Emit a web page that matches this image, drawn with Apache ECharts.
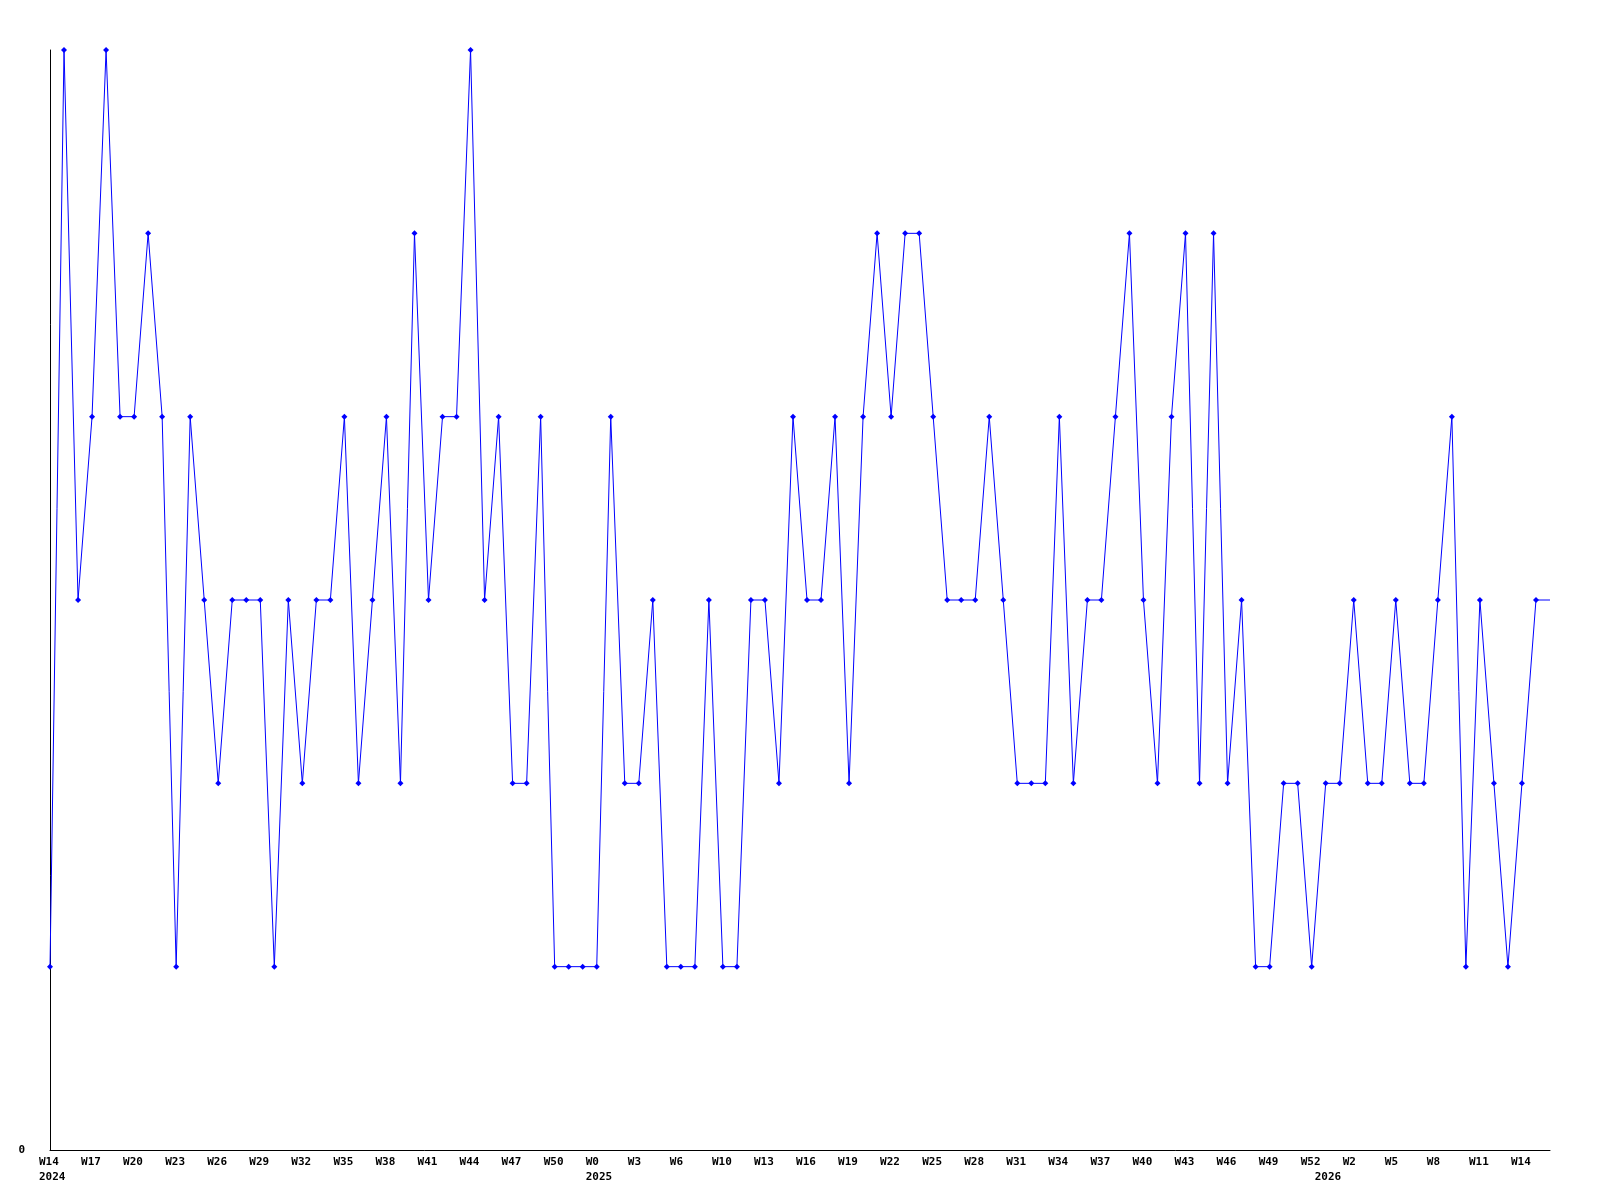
<!DOCTYPE html>
<html>
<head>
<meta charset="utf-8">
<script src="https://cdn.jsdelivr.net/npm/echarts@6/dist/echarts.min.js"></script>
<style>html,body{margin:0;padding:0;background:#fff;}#c{width:1600px;height:1200px;}</style>
</head>
<body>
<div id="c"></div>
<script>
// one value per week; the last entry is the current (partial) week, drawn without marker
const values = [
  1,6,3,4,6,4,4,5,4,1,
  4,3,2,3,3,3,1,3,2,3,
  3,4,2,3,4,2,5,3,4,4,
  6,3,4,2,2,4,1,1,1,1,
  4,2,2,3,1,1,1,3,1,1,
  3,3,2,4,3,3,4,2,4,5,
  4,5,5,4,3,3,3,4,3,2,
  2,2,4,2,3,3,4,5,3,2,
  4,5,2,5,2,3,1,1,2,2,
  1,2,2,3,2,2,3,2,2,3,
  4,1,3,2,1,2,3,3
];
// week tick labels, one every 3rd point
const weekLabels = ['W14','W17','W20','W23','W26','W29','W32','W35','W38','W41','W44','W47','W50',
  'W0','W3','W6','W10','W13','W16','W19','W22','W25','W28','W31','W34','W37','W40','W43','W46','W49','W52',
  'W2','W5','W8','W11','W14'];
const yearLabelIdx = [0, 39, 91];
const yearLabels = ['2024','2025','2026'];
const yTicks = [0];

const categories = values.map((v, i) => String(i));
const seriesData = values.map((v, i) => i === values.length - 1 ? {value: v, symbol: 'none'} : v);

const chart = echarts.init(document.getElementById('c'), null, {renderer: 'canvas'});
chart.setOption({
  animation: false,
  backgroundColor: '#ffffff',
  grid: {left: 50, right: 50, top: 50, bottom: 50, containLabel: false},
  xAxis: {
    type: 'category',
    data: categories,
    boundaryGap: false,
    axisLine: {lineStyle: {color: '#000', width: 1}},
    axisTick: {show: false},
    splitLine: {show: false},
    axisLabel: {
      interval: 0,
      margin: 5,
      align: 'center',
      hideOverlap: false,
      formatter: function (val, idx) {
        const i = +val;
        const w = (i % 3 === 0 && weekLabels[i / 3] !== undefined) ? weekLabels[i / 3] : '';
        const yi = yearLabelIdx.indexOf(i);
        if (!w && yi < 0) return '';
        let s = '{a|' + (w || ' ') + '}';
        if (yi >= 0) s += '\n{a|' + yearLabels[yi] + '}';
        return s;
      },
      rich: {
        a: {width: 22, align: 'left', fontFamily: 'DejaVu Sans Mono', fontWeight: 'bold', fontSize: 11, color: '#000', lineHeight: 15}
      }
    }
  },
  yAxis: {
    type: 'value',
    min: 0,
    max: 6,
    interval: 6,
    axisLine: {show: true, lineStyle: {color: '#000', width: 1}},
    axisTick: {show: false},
    splitLine: {show: false},
    axisLabel: {
      margin: 25,
      fontFamily: 'DejaVu Sans Mono', fontWeight: 'bold', fontSize: 11, color: '#000',
      formatter: v => (yTicks.indexOf(v) >= 0 ? String(v) : '')
    }
  },
  series: [{
    type: 'line',
    data: seriesData,
    symbol: 'diamond',
    symbolSize: 6,
    showAllSymbol: true,
    lineStyle: {color: '#0000ff', width: 1},
    itemStyle: {color: '#0000ff'},
    emphasis: {disabled: true}
  }]
});
</script>
</body>
</html>
